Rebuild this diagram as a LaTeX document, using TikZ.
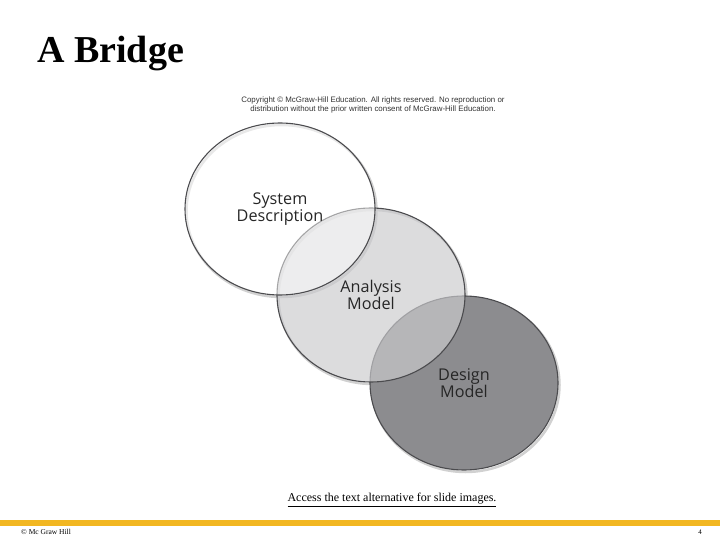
\documentclass[tikz,border=0pt]{standalone}
\usepackage{fontspec}
\setmainfont{Liberation Serif}
\newfontfamily\circfont{Open Sans}
\newfontfamily\arialfont{Liberation Sans}
\usetikzlibrary{shapes.geometric}
\definecolor{outl}{RGB}{75,75,78}
\definecolor{anafill}{RGB}{203,203,205}
\definecolor{desfill}{RGB}{140,140,143}
\definecolor{barcol}{RGB}{242,183,34}
\tikzset{
  venn/.style={ellipse, draw=outl, line width=1.1pt, inner sep=0pt,
    text opacity=1, align=center, text=black!85,
    font=\circfont\fontsize{16.2}{16.5}\selectfont},
  shadowring/.style={draw=black!18, line width=2.5pt},
}
\begin{document}
\begin{tikzpicture}[x=1pt,y=-1pt]
\useasboundingbox (0,0) rectangle (720,540);
% title
\node[anchor=base west, inner sep=0pt, font=\bfseries\fontsize{38}{38}\selectfont] (title) at (37,63) {A Bridge};
% copyright notice
\node[align=center, inner sep=0pt, font=\arialfont\fontsize{7.9}{9}\selectfont, text=black!80] (copy) at (373,105)
  {Copyright \textcopyright\ McGraw-Hill Education. All rights reserved. No reproduction or\\distribution without the prior written consent of McGraw-Hill Education.};
% shadows
\draw[shadowring] (465.5,385) ellipse [x radius=94pt, y radius=87pt];
\draw[shadowring] (372.5,297) ellipse [x radius=94pt, y radius=87pt];
\draw[shadowring] (281.5,211) ellipse [x radius=95pt, y radius=86pt];
% circles
\node[venn, fill=desfill, minimum width=188pt, minimum height=174pt] (des) at (464,383) {Design\\Model};
\node[venn, fill=anafill, fill opacity=0.67, minimum width=188pt, minimum height=174pt] (ana) at (371,295) {Analysis\\Model};
\node[venn, fill=white, fill opacity=0.5, minimum width=190pt, minimum height=172pt] (sys) at (280,209) {System\\Description};
% access text
\node[inner sep=0pt, font=\fontsize{12}{14}\selectfont] (access) at (392,500) {\underline{Access the text alternative for slide images.}};
% footer bar
\fill[barcol] (0,520) rectangle (720,526);
\node[anchor=west, inner sep=0pt, font=\fontsize{7.5}{8}\selectfont] (mh) at (21,532) {\textcopyright\ Mc Graw Hill};
\node[inner sep=0pt, font=\fontsize{7}{8}\selectfont] (pg) at (700,532) {4};
\end{tikzpicture}
\end{document}
